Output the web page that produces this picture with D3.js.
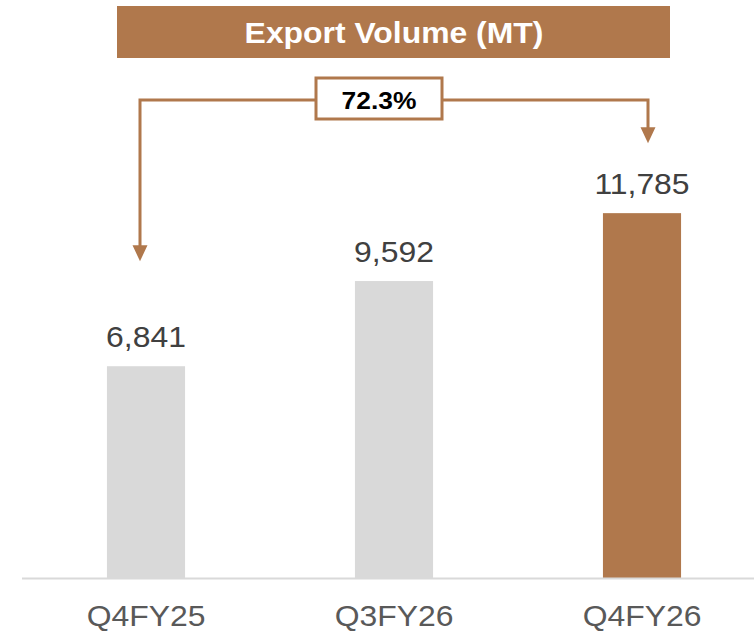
<!DOCTYPE html>
<html>
<head>
<meta charset="utf-8">
<script src="https://cdn.jsdelivr.net/npm/d3@7"></script>
<style>
  html, body { margin: 0; padding: 0; background: #fff; }
  svg { display: block; font-family: "Liberation Sans", Arial, sans-serif; }
</style>
</head>
<body>
<div id="chart"></div>
<script>
// chart data
var categories = ["Q4FY25", "Q3FY26", "Q4FY26"];
var volumes = [6841, 9592, 11785];
var barColors = ["#d9d9d9", "#d9d9d9", "#b0784c"];
var titleText = "Export Volume (MT)";
var growthLabel = "72.3%";

var width = 754, height = 634;
var brown = "#b0784c";
var stretch = 1.1;   // text in the original is drawn a bit wide

var svg = d3.select("#chart").append("svg")
    .attr("width", width)
    .attr("height", height);

    // scales
var x = d3.scaleBand()
    .domain(categories)
    .range([22, 766])
    .paddingInner(0.685)
    .paddingOuter(0.3425);

var y = d3.scaleLinear()
    .domain([0, 18670])
    .range([578, 0]);

    // place a text at (px, py), stretched horizontally
function wideText(px, py) {
    return svg.append("text")
        .attr("transform", "translate(" + px + "," + py + ") scale(" + stretch + ",1)")
        .attr("text-anchor", "middle");
}

    // title banner
svg.append("rect")
    .attr("x", 117).attr("y", 6)
    .attr("width", 553).attr("height", 52)
    .attr("fill", brown);

wideText(394, 43)
    .attr("fill", "#fff")
    .attr("font-weight", "bold")
    .attr("font-size", 29)
    .text(titleText);

    // bars
svg.selectAll("rect.bar")
    .data(volumes)
    .enter().append("rect")
    .attr("class", "bar")
    .attr("x", function(d, i) { return x(categories[i]); })
    .attr("y", function(d) { return y(d); })
    .attr("width", x.bandwidth())
    .attr("height", function(d) { return y(0) - y(d); })
    .attr("fill", function(d, i) { return barColors[i]; });

    // value labels
volumes.forEach(function(d, i) {
    wideText(x(categories[i]) + x.bandwidth() / 2, y(d) - 19)
        .attr("fill", "#404040")
        .attr("font-size", 29)
        .text(d3.format(",")(d));
});

    // baseline + category labels
svg.append("line")
    .attr("x1", 22).attr("x2", width)
    .attr("y1", y(0) + 0.5).attr("y2", y(0) + 0.5)
    .attr("stroke", "#d9d9d9")
    .attr("stroke-width", 2);

categories.forEach(function(c) {
    wideText(x(c) + x.bandwidth() / 2, 626)
        .attr("fill", "#595959")
        .attr("font-size", 29)
        .text(c);
});

    // growth connector with arrows
var cx0 = x(categories[0]) + x.bandwidth() / 2 - 6;
var cx1 = x(categories[2]) + x.bandwidth() / 2 + 6;
var lineY = 100;
var tip0 = y(volumes[0]) - 105;
var tip1 = y(volumes[2]) - 70;

svg.append("path")
    .attr("d", "M" + cx0 + "," + (tip0 - 14) + "V" + lineY + "H" + cx1 + "V" + (tip1 - 14))
    .attr("fill", "none")
    .attr("stroke", brown)
    .attr("stroke-width", 3);

[[cx0, tip0], [cx1, tip1]].forEach(function(p) {
    svg.append("path")
        .attr("d", "M" + (p[0] - 7.5) + "," + (p[1] - 16) + "L" + (p[0] + 7.5) + "," + (p[1] - 16) + "L" + p[0] + "," + p[1] + "Z")
        .attr("fill", brown);
});

svg.append("rect")
    .attr("x", 316).attr("y", 78)
    .attr("width", 126).attr("height", 41)
    .attr("fill", "#fff")
    .attr("stroke", brown)
    .attr("stroke-width", 3);

wideText(379, 109)
    .attr("fill", "#000")
    .attr("font-weight", "bold")
    .attr("font-size", 24)
    .text(growthLabel);
</script>
</body>
</html>
